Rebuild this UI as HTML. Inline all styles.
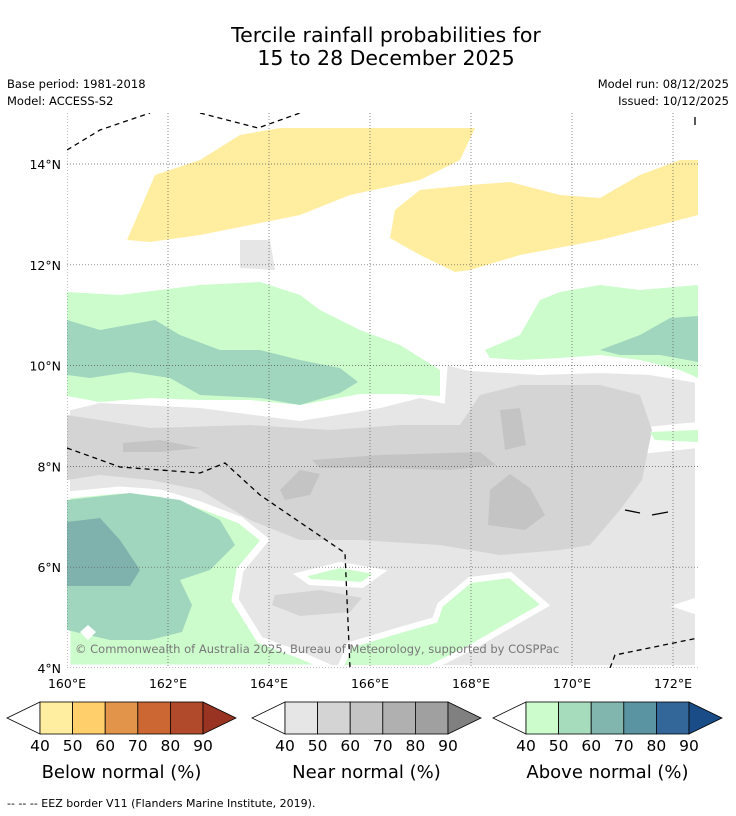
<!DOCTYPE html>
<html><head><meta charset="utf-8"><style>
body{margin:0;background:#fff;width:736px;height:816px;overflow:hidden;font-family:"DejaVu Sans","Liberation Sans",sans-serif}
svg{position:absolute;left:0;top:0}
</style></head><body>
<svg id="s" width="736" height="816" viewBox="0 0 736 816" font-family="DejaVu Sans, Liberation Sans, sans-serif">
<text x="386" y="42" font-size="20.5" text-anchor="middle">Tercile rainfall probabilities for</text>
<text x="386" y="65" font-size="20.5" text-anchor="middle">15 to 28 December 2025</text>
<text x="7" y="88" font-size="11.5">Base period: 1981-2018</text>
<text x="7" y="105" font-size="11.5">Model: ACCESS-S2</text>
<text x="729" y="88" font-size="11.5" text-anchor="end">Model run: 08/12/2025</text>
<text x="729" y="105" font-size="11.5" text-anchor="end">Issued: 10/12/2025</text>
<defs><clipPath id="c"><rect x="67" y="113" width="631" height="555"/></clipPath></defs>
<g clip-path="url(#c)">
<rect x="67" y="113" width="631" height="555" fill="#fff"/>
<path fill="#e6e6e6" stroke="#fff" stroke-width="6" d="M67,408 L100,400 L200,405 L300,418 L380,405 L420,395 L442,400 L445,362 L470,368 L540,372 L600,370 L650,372 L698,380 L698,425 L645,430 L650,450 L698,445 L698,600 L680,606 L698,612 L698,668 L67,668 Z"/>
<path fill="#d4d4d4" d="M67,415 L150,428 L250,425 L330,430 L400,425 L460,425 L480,395 L520,385 L600,385 L640,395 L652,430 L642,480 L620,510 L590,545 L560,550 L500,555 L440,545 L360,540 L300,540 L250,520 L200,490 L150,480 L100,475 L67,480 Z M275,595 L320,590 L362,598 L350,612 L300,616 L272,605 Z"/>
<path fill="#c4c4c4" d="M500,410 L520,408 L526,445 L505,450 Z M490,490 L510,474 L530,488 L545,515 L525,530 L488,525 Z M280,490 L300,470 L320,474 L310,495 L285,500 Z M312,460 L380,455 L480,452 L496,465 L450,470 L380,468 L320,468 Z M123,443 L160,440 L200,448 L160,452 L123,452 Z"/>
<path fill="#e6e6e6" d="M240,240 L270,240 L275,270 L240,268 Z"/>
<path fill="#ffeda0" d="M127,240 L140,210 L155,175 L200,160 L240,135 L280,128 L475,128 L460,160 L420,180 L350,195 L300,215 L250,225 L200,235 L150,242 Z"/>
<path fill="#ffeda0" d="M390,238 L395,210 L420,190 L470,185 L510,182 L560,195 L600,198 L640,175 L680,160 L698,160 L698,215 L660,225 L600,240 L520,255 L470,270 L455,272 L420,255 Z"/>
<path fill="#ccfccc" d="M67,292 L120,295 L200,285 L260,282 L300,295 L320,310 L360,330 L400,345 L440,370 L440,396 L400,394 L360,394 L300,405 L250,400 L200,400 L150,398 L100,402 L67,396 Z"/>
<path fill="#a1d6be" d="M67,320 L100,330 L155,320 L180,335 L220,350 L260,350 L300,360 L340,368 L358,382 L340,393 L300,405 L260,398 L200,395 L170,378 L130,372 L90,378 L67,375 Z"/>
<path fill="#ccfccc" d="M485,350 L520,335 L540,300 L560,292 L600,285 L640,290 L698,285 L698,378 L680,370 L640,360 L600,355 L560,358 L520,360 L490,358 Z M650,432 L698,430 L698,442 L655,440 Z"/>
<path fill="#a1d6be" d="M600,350 L640,335 L670,318 L698,316 L698,362 L660,355 L620,355 Z"/>
<path fill="#ccfccc" stroke="#fff" stroke-width="7" d="M67,495 L120,490 L160,493 L200,505 L240,520 L265,540 L240,570 L235,600 L260,640 L300,655 L330,668 L67,668 Z"/>
<path fill="#a1d6be" d="M67,500 L130,493 L180,500 L220,520 L235,545 L210,570 L180,580 L192,605 L182,632 L150,640 L110,640 L67,630 Z"/>
<path fill="#7fb2ad" d="M67,522 L100,518 L120,540 L140,570 L130,586 L67,586 Z"/>
<path fill="#ccfccc" stroke="#fff" stroke-width="6" d="M300,575 L340,565 L380,572 L362,585 L310,582 Z M440,605 L470,580 L510,575 L545,605 L510,625 L470,648 L430,668 L340,668 L350,645 L400,630 L435,620 Z"/>
<path fill="#fff" d="M80,632 L88,625 L96,632 L88,640 Z"/>
<g id="grid" stroke="#555" stroke-width="0.7" stroke-dasharray="1,2" fill="none"></g>
<g stroke="#000" stroke-width="1.3" stroke-dasharray="5,4" fill="none">
<path d="M67,150 L100,130 L150,113"/><path d="M200,113 L258,128 L300,113"/>
<path d="M67,448 L120,467 L200,473 L225,463 L260,495 L345,553 L350,668"/>
<path d="M610,668 L615,655 L698,638"/>
</g>
<path d="M695,117 L695,125 M625,510 L640,513 M652,515 L668,512" stroke="#000" stroke-width="1.3" fill="none"/>
<text x="75" y="653" font-size="11.5" fill="#777">© Commonwealth of Australia 2025, Bureau of Meteorology, supported by COSPPac</text>
</g>
<g id="axes"></g>
<g id="bars"></g>
<text x="7" y="807" font-size="11">--  --  -- EEZ border V11 (Flanders Marine Institute, 2019).</text>
</svg>
<script>
const NS="http://www.w3.org/2000/svg";
const lonTicks=[160,162,164,166,168,170,172];
const latTicks=[14,12,10,8,6,4];
const barLabels=[40,50,60,70,80,90];
const belowColors=["#ffeda0","#fecf6a","#e2944a","#cc6633","#b04a2a"];
const nearColors=["#e6e6e6","#d4d4d4","#c4c4c4","#b0b0b0","#a0a0a0"];
const aboveColors=["#ccfccc","#a6dcbc","#80b6ae","#5a94a2","#336699"];
const barTitles=["Below normal (%)","Near normal (%)","Above normal (%)"];
const x=lon=>67+(lon-160)*50.5;
const y=lat=>668-(lat-4)*50.4;
function el(t,a,p){const e=document.createElementNS(NS,t);for(const k in a)e.setAttribute(k,a[k]);p.appendChild(e);return e;}
const grid=document.getElementById('grid'),axes=document.getElementById('axes');
lonTicks.forEach(l=>{
  const ln=el('line',{x1:x(l),x2:x(l),y1:113,y2:668},grid);
  
  
  const t=el('text',{x:x(l),y:688,'font-size':12.5,'text-anchor':'middle'},axes);
  t.textContent=l+'°E';
  
  
});
latTicks.forEach(l=>{
  const ln=el('line',{x1:67,x2:698,y1:y(l),y2:y(l)},grid);
  
  
  const t=el('text',{x:61,y:y(l)+5,'font-size':12.5,'text-anchor':'end'},axes);
  t.textContent=l+'°N';
  
  
});
const bars=document.getElementById('bars');
const sets=[[belowColors,"#993322",7],[nearColors,"#808080",252],[aboveColors,"#1a4d88",493]];
sets.forEach((s,i)=>{
  const [cols,end,x0]=s;const bx=x0+33,w=32.6,top=702,h=32;
  const g=el('g',{},bars);
  
  
  el('path',{d:`M${x0},${top+h/2} L${bx},${top} L${bx},${top+h} Z`,fill:'#fff',stroke:'#000','stroke-width':0.8},g);
  cols.forEach((c,j)=>{
    const r=el('rect',{x:bx+j*w,y:top,width:w,height:h,fill:c,stroke:'#000','stroke-width':0.8},g);
    
    
  });
  const ex=bx+cols.length*w;
  el('path',{d:`M${ex},${top} L${ex+33},${top+h/2} L${ex},${top+h} Z`,fill:end,stroke:'#000','stroke-width':0.8},g);
  barLabels.forEach((v,j)=>{
    const t=el('text',{x:bx+j*w,y:751,'font-size':15.5,'text-anchor':'middle'},g);
    t.textContent=v;
    
    
  });
  const tt=el('text',{x:bx+2.5*w,y:778,'font-size':18,'text-anchor':'middle'},g);
  tt.textContent=barTitles[i];
  
  
});
</script>
</body></html>
